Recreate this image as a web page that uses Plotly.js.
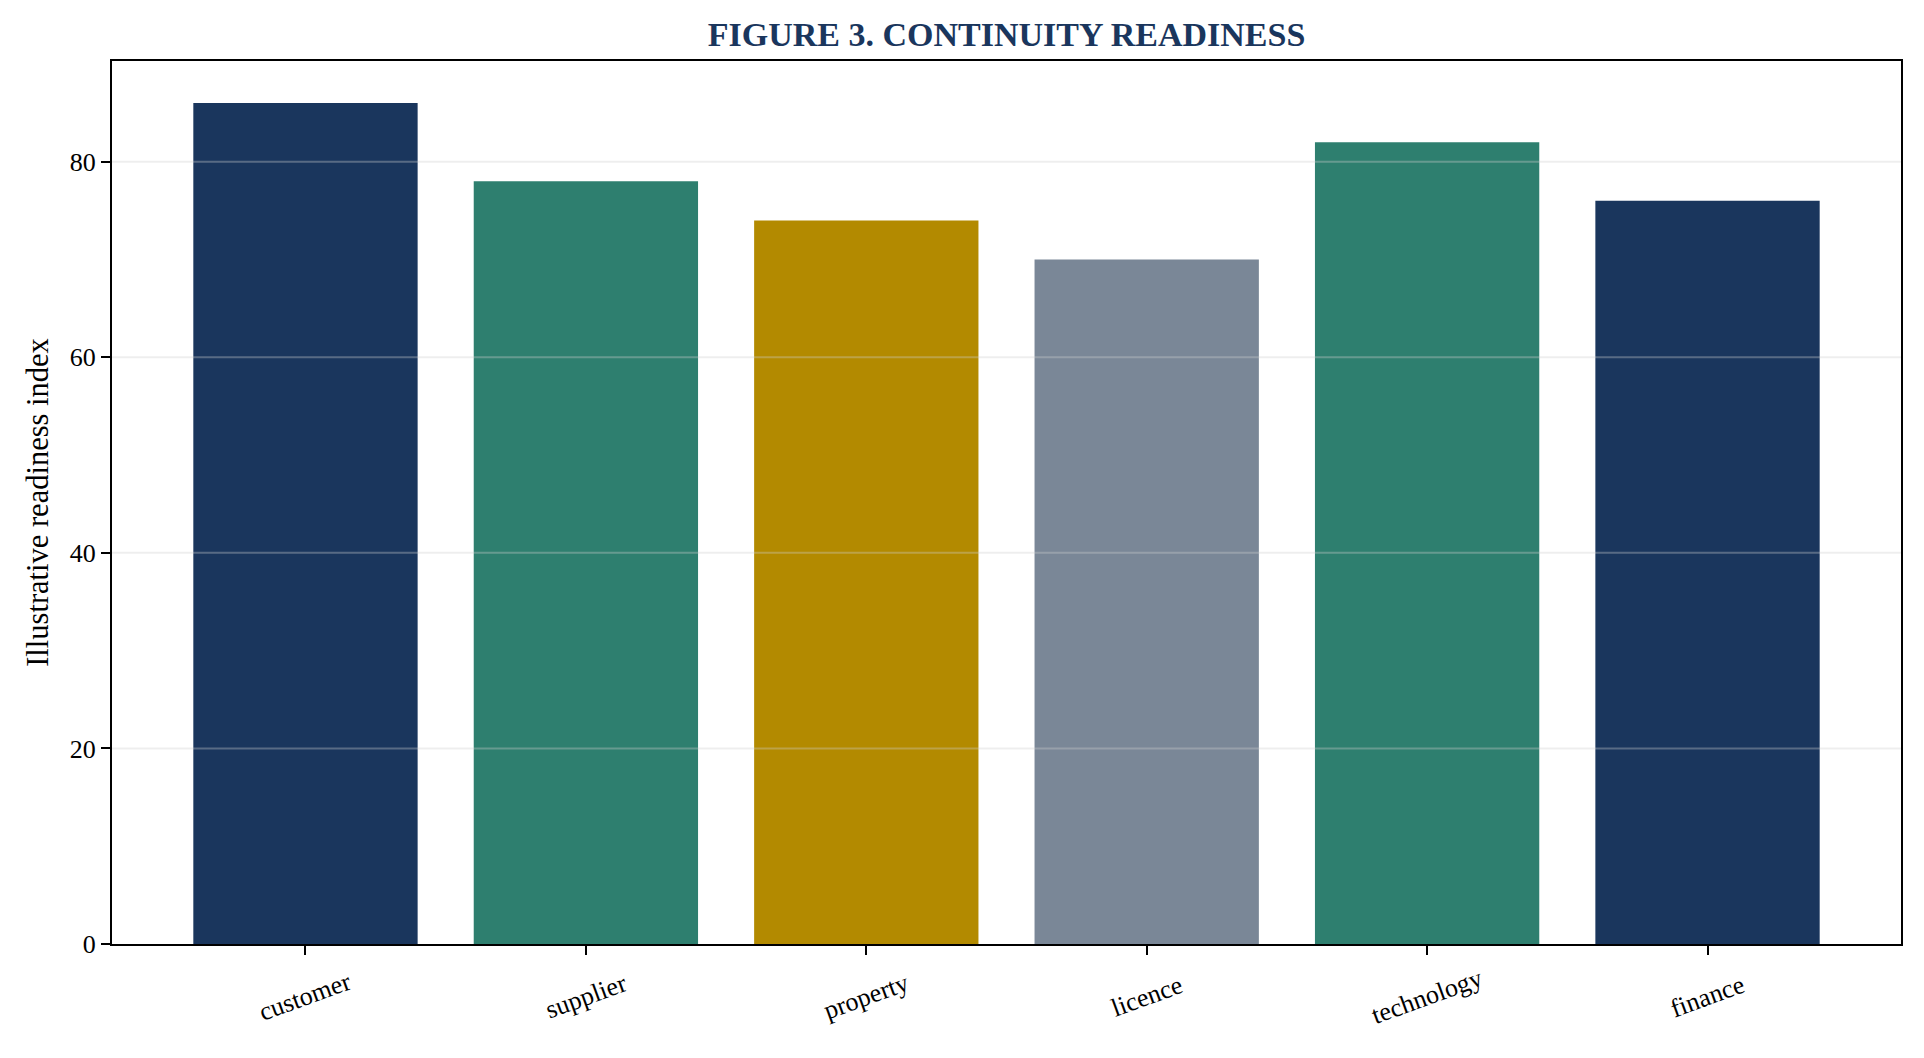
<!DOCTYPE html>
<html>
<head>
<meta charset="utf-8">
<script src="https://cdn.plot.ly/plotly-3.0.1.min.js"></script>
<style>
  html, body { margin: 0; padding: 0; background: #fff; }
  #chart { width: 1924px; height: 1058px; }
</style>
</head>
<body>
<div id="chart"></div>
<script>
var categories = ['customer', 'supplier', 'property', 'licence', 'technology', 'finance'];
var readiness = [86, 78, 74, 70, 82, 76];
var bar_colors = ['#1a365d', '#2e7f6f', '#b38a00', '#7a8797', '#2e7f6f', '#1a365d'];
var y_ticks = [0, 20, 40, 60, 80];

var serif = 'Liberation Serif, Times New Roman, serif';

var bars = {
    x: categories,
    y: readiness,
    type: 'bar',
    width: 0.8,
    marker: {color: bar_colors, line: {width: 0}},
    hoverinfo: 'x+y'
};

// rotated category labels, centred under each tick like the reference
var cat_labels = categories.map(function(c) {
    return {
        x: c, xref: 'x',
        y: 0, yref: 'paper',
        yanchor: 'middle', xanchor: 'center',
        yshift: -52,
        text: c,
        textangle: -20,
        showarrow: false,
        font: {family: serif, size: 26, color: '#000'}
    };
});

// grid drawn over the bars (plotly keeps its own grid below traces)
var grid_lines = y_ticks.filter(v => v > 0).map(function(v) {
    return {
        type: 'line', layer: 'above',
        xref: 'paper', x0: 0, x1: 1,
        yref: 'y', y0: v, y1: v,
        line: {color: 'rgba(205,205,205,0.35)', width: 2}
    };
});

var layout = {
    width: 1924,
    height: 1058,
    margin: {l: 112, r: 23, t: 61, b: 114},
    paper_bgcolor: '#ffffff',
    plot_bgcolor: '#ffffff',
    font: {family: serif, size: 26, color: '#000000'},
    showlegend: false,
    title: {
        text: '<b>FIGURE 3. CONTINUITY READINESS</b>',
        font: {family: serif, size: 34, color: '#1a365d'},
        x: 0.5, xref: 'paper', xanchor: 'center',
        y: 1 - 34 / 1058, yanchor: 'middle'
    },
    xaxis: {
        type: 'category',
        range: [-0.69, 5.69],
        showticklabels: false,
        ticks: 'outside', ticklen: 9, tickwidth: 2, tickcolor: '#000',
        showline: true, linecolor: '#000', linewidth: 2, mirror: true,
        showgrid: false, zeroline: false
    },
    yaxis: {
        range: [0, 90.3],
        tickvals: y_ticks,
        ticks: 'outside', ticklen: 9, tickwidth: 2, tickcolor: '#000',
        showline: true, linecolor: '#000', linewidth: 2, mirror: true,
        showgrid: false,
        zeroline: false,
        tickfont: {family: serif, size: 26},
        title: {text: 'Illustrative readiness index', font: {family: serif, size: 30.5}, standoff: 12}
    },
    shapes: grid_lines,
    annotations: cat_labels
};

Plotly.newPlot('chart', [bars], layout, {displayModeBar: false, staticPlot: true});
</script>
</body>
</html>
